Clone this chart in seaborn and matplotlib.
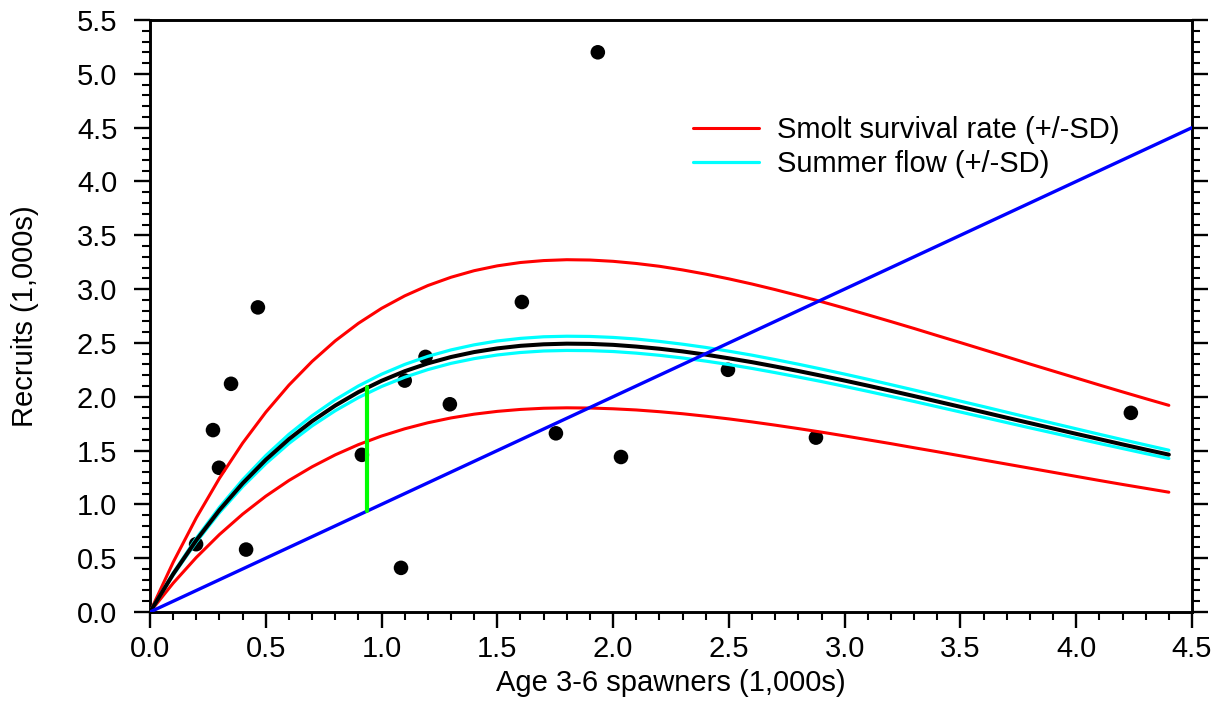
import matplotlib
matplotlib.use("Agg")
import numpy as np
import pandas as pd
import seaborn as sns
import matplotlib.pyplot as plt
from matplotlib.ticker import MultipleLocator, FormatStrFormatter
from matplotlib.lines import Line2D

# ---------------- data ----------------
spawners = [0.199, 0.272, 0.298, 0.350, 0.466, 0.415, 0.915, 1.084, 1.100, 1.190,
            1.295, 1.606, 1.753, 1.934, 2.034, 2.496, 2.876, 4.236]
recruits = [0.63, 1.69, 1.34, 2.12, 2.83, 0.58, 1.46, 0.41, 2.15, 2.37,
            1.93, 2.88, 1.66, 5.20, 1.44, 2.25, 1.62, 1.85]

curve_x = [0.0, 0.1, 0.2, 0.3, 0.4, 0.5, 0.6, 0.7, 0.8, 0.9,
           1.0, 1.1, 1.2, 1.3, 1.4, 1.5, 1.6, 1.7, 1.8, 1.9,
           2.0, 2.1, 2.2, 2.3, 2.4, 2.5, 2.6, 2.7, 2.8, 2.9,
           3.0, 3.1, 3.2, 3.3, 3.4, 3.5, 3.6, 3.7, 3.8, 3.9,
           4.0, 4.1, 4.2, 4.3, 4.4]
base_fit = [0.0, 0.352, 0.667, 0.947, 1.195, 1.414, 1.606, 1.773, 1.918, 2.043,
            2.148, 2.237, 2.310, 2.369, 2.415, 2.449, 2.473, 2.487, 2.493, 2.491,
            2.482, 2.466, 2.446, 2.421, 2.391, 2.357, 2.321, 2.281, 2.239, 2.195,
            2.150, 2.103, 2.055, 2.006, 1.956, 1.906, 1.856, 1.805, 1.755, 1.705,
            1.655, 1.606, 1.557, 1.509, 1.462]
smolt_upper = [0.0, 0.462, 0.875, 1.243, 1.569, 1.856, 2.108, 2.328, 2.519, 2.682,
               2.821, 2.937, 3.033, 3.110, 3.171, 3.216, 3.247, 3.265, 3.273, 3.270,
               3.258, 3.238, 3.212, 3.178, 3.139, 3.095, 3.047, 2.995, 2.940, 2.883,
               2.823, 2.761, 2.698, 2.634, 2.568, 2.503, 2.437, 2.371, 2.304, 2.239,
               2.174, 2.109, 2.045, 1.982, 1.920]
smolt_lower = [0.0, 0.268, 0.507, 0.720, 0.909, 1.076, 1.222, 1.349, 1.460, 1.555,
               1.635, 1.702, 1.758, 1.803, 1.838, 1.864, 1.882, 1.893, 1.897, 1.895,
               1.888, 1.877, 1.861, 1.842, 1.819, 1.794, 1.766, 1.736, 1.704, 1.671,
               1.636, 1.600, 1.564, 1.526, 1.489, 1.451, 1.412, 1.374, 1.336, 1.298,
               1.260, 1.222, 1.185, 1.149, 1.113]
flow_upper = [0.0, 0.362, 0.685, 0.973, 1.228, 1.453, 1.651, 1.823, 1.972, 2.100,
              2.209, 2.300, 2.375, 2.435, 2.482, 2.518, 2.542, 2.557, 2.562, 2.560,
              2.551, 2.536, 2.514, 2.488, 2.458, 2.423, 2.386, 2.345, 2.302, 2.257,
              2.210, 2.162, 2.112, 2.062, 2.011, 1.959, 1.908, 1.856, 1.804, 1.753,
              1.702, 1.651, 1.601, 1.552, 1.503]
flow_lower = [0.0, 0.343, 0.650, 0.923, 1.165, 1.378, 1.566, 1.729, 1.870, 1.992,
              2.095, 2.181, 2.252, 2.310, 2.354, 2.388, 2.411, 2.425, 2.430, 2.428,
              2.420, 2.405, 2.385, 2.360, 2.331, 2.299, 2.263, 2.224, 2.183, 2.141,
              2.096, 2.050, 2.003, 1.956, 1.907, 1.858, 1.809, 1.760, 1.711, 1.663,
              1.614, 1.566, 1.519, 1.472, 1.426]

replacement_x = [0.0, 4.5]
replacement_y = [0.0, 4.5]

smsy_x = [0.937, 0.937]
smsy_y = [0.937, 2.09]

legend_labels = ["Smolt survival rate (+/-SD)", "Summer flow (+/-SD)"]
x_label = "Age 3-6 spawners (1,000s)"
y_label = "Recruits (1,000s)"

# ---------------- style ----------------
sns.set_style("white")
plt.rcParams['font.family'] = ['Liberation Sans', 'DejaVu Sans']
plt.rcParams['text.color'] = 'black'
plt.rcParams['axes.labelcolor'] = 'black'
plt.rcParams['xtick.color'] = 'black'
plt.rcParams['ytick.color'] = 'black'
FS = 21

fig = plt.figure(figsize=(12.19, 7.13), dpi=100)
ax = fig.add_axes([150 / 1219, 101 / 713, 1042 / 1219, 592 / 713])

pts = pd.DataFrame({"S": spawners, "R": recruits})
sns.scatterplot(data=pts, x="S", y="R", ax=ax, color="black", s=110,
                edgecolor="none", zorder=2, legend=False)

curves = pd.DataFrame({"S": curve_x, "base": base_fit,
                       "su": smolt_upper, "sl": smolt_lower,
                       "fu": flow_upper, "fl": flow_lower})
for col, colr, lw in [("su", "#ff0000", 2.2), ("sl", "#ff0000", 2.2),
                      ("fu", "#00ffff", 2.3), ("fl", "#00ffff", 2.3),
                      ("base", "black", 2.9)]:
    sns.lineplot(data=curves, x="S", y=col, ax=ax, color=colr, lw=lw,
                 sort=False, estimator=None, zorder=3, legend=False)

rep = pd.DataFrame({"S": replacement_x, "R": replacement_y})
sns.lineplot(data=rep, x="S", y="R", ax=ax, color="#0000ff", lw=2.4,
             estimator=None, zorder=3, legend=False)
sm = pd.DataFrame({"S": smsy_x, "R": smsy_y})
sns.lineplot(data=sm, x="S", y="R", ax=ax, color="#00ff00", lw=3.0,
             estimator=None, sort=False, zorder=4, legend=False)

ax.set_xlim(0, 4.5)
ax.set_ylim(0, 5.5)
ax.xaxis.set_major_locator(MultipleLocator(0.5))
ax.xaxis.set_minor_locator(MultipleLocator(0.1))
ax.yaxis.set_major_locator(MultipleLocator(0.5))
ax.yaxis.set_minor_locator(MultipleLocator(0.1))
ax.xaxis.set_major_formatter(FormatStrFormatter("%.1f"))
ax.yaxis.set_major_formatter(FormatStrFormatter("%.1f"))

for sp in ax.spines.values():
    sp.set_visible(True)
    sp.set_color("black")
    sp.set_linewidth(2.1)

ax.tick_params(which="both", direction="out", color="black", labelcolor="black",
               bottom=True, left=True, right=True, top=False,
               labelright=False, labeltop=False)
ax.tick_params(which="major", length=11.5, width=1.7, labelsize=FS)
ax.tick_params(which="minor", length=5.8, width=1.5)
ax.tick_params(axis="x", which="major", pad=5)
ax.tick_params(axis="y", which="major", pad=12)

ax.set_xlabel(x_label, fontsize=FS, labelpad=4.5, color="black")
ax.set_ylabel(y_label, fontsize=FS, labelpad=27, color="black")

handles = [Line2D([], [], color="#ff0000", lw=2.2),
           Line2D([], [], color="#00ffff", lw=2.3)]
ax.legend(handles, legend_labels, loc="upper left", bbox_to_anchor=(0.521, 0.838),
          frameon=False, fontsize=FS, handlelength=2.26, handletextpad=0.62,
          labelspacing=0.22, borderaxespad=0, borderpad=0, labelcolor="black")

ax.grid(False)
fig.savefig("out.png", dpi=100)
